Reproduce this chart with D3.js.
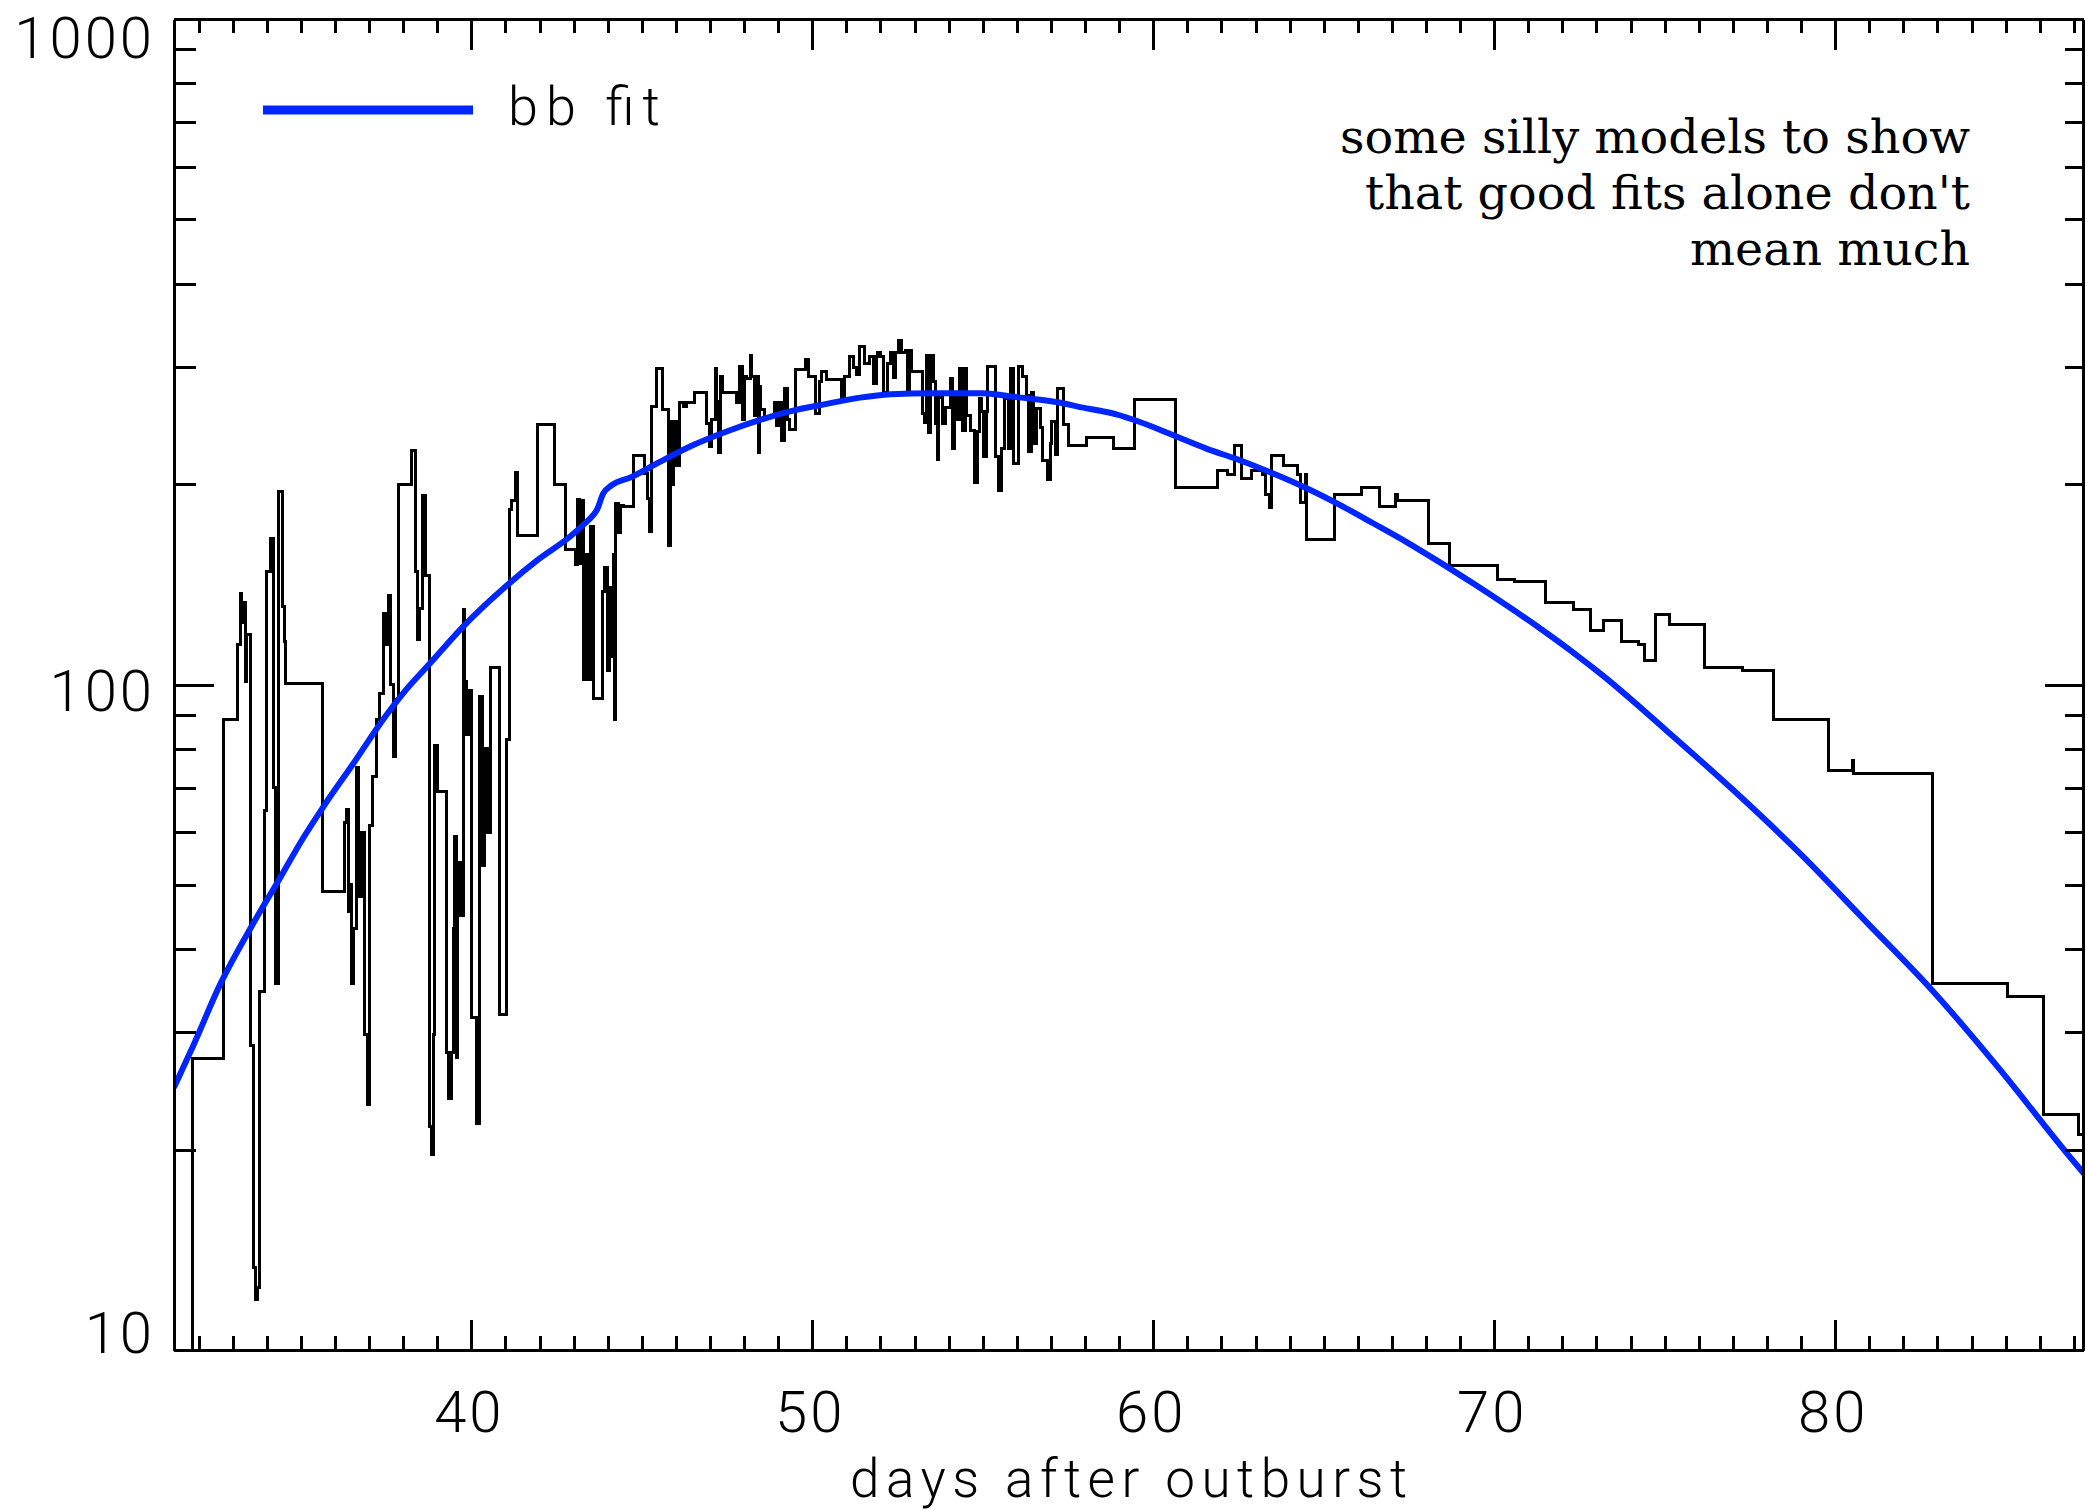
<!DOCTYPE html>
<html>
<head>
<meta charset="utf-8">
<script src="https://cdn.jsdelivr.net/npm/d3@7/dist/d3.min.js"></script>
<style>
  html, body { margin: 0; padding: 0; background: #fff; }
  svg { display: block; }
  .lbl { font-family: Roboto, "DejaVu Sans", sans-serif; font-weight: 300; fill: #000; }
  .note { font-family: "DejaVu Serif", serif; fill: #000; }
  .axis path, .axis line { stroke: #000; stroke-width: 3; shape-rendering: crispEdges; }
</style>
</head>
<body>
<div id="chart"></div>
<script>
// light curve, stepped histogram: bin start (days after outburst) and counts
const binStart = [
  31.20, 31.83, 32.73, 33.14, 33.22, 33.27, 33.32, 33.37, 33.42, 33.52,
  33.62, 33.68, 33.72, 33.80, 33.93, 34.00, 34.10, 34.20, 34.27, 34.34,
  34.46, 34.52, 34.56, 35.65, 36.28, 36.34, 36.40, 36.44, 36.50, 36.54,
  36.62, 36.70, 36.78, 36.86, 36.95, 37.00, 37.10, 37.22, 37.32, 37.42,
  37.50, 37.57, 37.64, 37.71, 37.78, 37.86, 38.25, 38.37, 38.42, 38.48,
  38.57, 38.66, 38.77, 38.83, 38.89, 38.93, 39.00, 39.28, 39.33, 39.42,
  39.47, 39.50, 39.56, 39.60, 39.67, 39.76, 39.80, 39.86, 39.93, 40.01,
  40.16, 40.25, 40.33, 40.40, 40.47, 40.55, 40.82, 41.04, 41.11, 41.18,
  41.30, 41.35, 41.94, 42.43, 42.76, 43.05, 43.10, 43.17, 43.22, 43.28,
  43.36, 43.42, 43.50, 43.58, 43.85, 43.92, 44.00, 44.06, 44.10, 44.16,
  44.20, 44.24, 44.32, 44.38, 44.46, 44.77, 45.09, 45.16, 45.24, 45.28,
  45.43, 45.61, 45.78, 45.85, 45.90, 45.94, 46.03, 46.10, 46.22, 46.31,
  46.56, 46.90, 46.98, 47.05, 47.15, 47.20, 47.25, 47.30, 47.38, 47.78,
  47.88, 47.95, 48.00, 48.07, 48.18, 48.21, 48.30, 48.36, 48.43, 48.45,
  48.47, 48.60, 48.88, 48.95, 49.02, 49.10, 49.20, 49.28, 49.33, 49.50,
  49.81, 49.90, 50.10, 50.20, 50.27, 50.42, 50.85, 50.95, 51.10, 51.20,
  51.30, 51.40, 51.52, 51.69, 51.80, 51.87, 51.92, 52.00, 52.08, 52.20,
  52.30, 52.38, 52.45, 52.52, 52.62, 52.72, 52.80, 52.86, 52.91, 53.23,
  53.30, 53.35, 53.42, 53.46, 53.55, 53.60, 53.66, 53.70, 53.74, 53.83,
  53.92, 54.04, 54.12, 54.18, 54.23, 54.33, 54.42, 54.48, 54.53, 54.65,
  54.77, 54.86, 54.90, 54.96, 55.03, 55.12, 55.15, 55.36, 55.45, 55.55,
  55.65, 55.75, 55.80, 55.90, 56.06, 56.17, 56.27, 56.35, 56.42, 56.50,
  56.58, 56.68, 56.75, 56.90, 57.00, 57.03, 57.12, 57.18, 57.36, 57.51,
  58.04, 58.83, 59.46, 60.66, 61.88, 62.17, 62.39, 62.59, 62.88, 63.21,
  63.30, 63.42, 63.47, 63.81, 64.22, 64.32, 64.47, 64.50, 65.33, 66.11,
  66.65, 67.10, 67.15, 68.06, 68.68, 70.09, 70.60, 71.51, 72.32, 72.82,
  73.22, 73.73, 74.22, 74.42, 74.74, 75.15, 76.18, 77.28, 78.18, 79.80,
  80.50, 80.55, 82.85, 85.07, 86.10, 87.13
];
const binValue = [
  10, 27.4, 88.6, 115, 137, 124, 133, 101, 119, 28.7,
  13.3, 11.9, 12.4, 34.6, 64.7, 148, 166, 70, 35.5, 195,
  131, 116, 100.5, 48.8, 62, 65, 45.6, 50, 35.6, 43,
  75, 48, 60, 29.8, 23.4, 61.5, 72.8, 88.7, 97, 128,
  115, 136, 100, 78, 95, 200, 225, 148, 117, 130,
  192, 146, 21.7, 19.7, 29.8, 81, 69, 28, 23.9, 28,
  43, 59, 27.5, 54, 45, 129.5, 101, 84, 98, 31.6,
  21.9, 96, 53.4, 80, 60, 106, 31.9, 82.8, 183, 189,
  208, 167.5, 245.6, 199.6, 159.4, 151.6, 189.7, 152, 189, 101.6,
  157, 101.6, 172.6, 95.3, 138, 150, 105, 140, 110, 157,
  88.5, 187, 169, 186, 185, 221, 207.6, 190.5, 170, 262,
  298, 259, 162, 248, 200, 248, 213, 265, 262, 265,
  275, 247, 228, 250, 298, 266, 223, 290, 275, 265,
  301, 250, 290, 288, 312, 290, 254, 290, 223, 280,
  259, 252.5, 265, 245, 265, 233, 278, 250, 241.6, 297,
  307.8, 290, 255, 285, 295, 287, 270, 290, 311, 299,
  292, 322, 304, 311, 283, 311, 315, 311, 275, 304,
  315, 289, 315, 329, 315, 318, 275, 318, 295, 255,
  247.5, 312, 239, 312, 285, 247, 218, 270, 272, 247,
  261, 288, 226, 270, 250, 298, 241, 298, 254, 241,
  201, 240, 269, 257, 220, 257, 301, 220, 196, 226,
  269, 226, 298, 215, 301, 290, 272, 224, 275, 230,
  260, 243, 217, 203, 230, 248, 222, 278, 245.6, 229,
  235, 226.5, 268, 198, 209.4, 206.5, 229, 204, 209.4, 206.5,
  193, 184.5, 221, 213.6, 207, 188, 207, 165.3, 193, 198,
  185.3, 193, 189, 163, 150.7, 143.9, 142.6, 133, 129.7, 120.5,
  124.6, 116, 114.9, 108.6, 127.2, 123, 106.2, 105, 88.7, 74.3,
  76.8, 73.5, 35.6, 34.0, 22.6, 21.1
];
const binLastEnd = 87.4;

// "bb fit" model curve
const fitDay = [
  31.28, 31.85, 32.63, 33.61, 34.39, 35.07, 35.66, 36.54, 37.42, 38.00,
  38.79, 39.76, 40.94, 41.92, 42.89, 43.30, 43.58, 43.68, 43.87, 44.10,
  44.70, 45.53, 46.51, 47.49, 48.47, 49.44, 50.42, 51.40, 52.30, 53.50,
  55.00, 55.80, 56.50, 57.20, 57.95, 58.48, 58.92, 59.61, 60.59, 61.56,
  62.54, 63.52, 64.50, 65.47, 66.45, 67.43, 68.41, 69.38, 70.36, 71.34,
  72.32, 73.19, 75.05, 77.01, 78.96, 80.92, 82.87, 84.83, 86.78, 87.30
];
const fitValue = [
  24.8, 28.7, 35.4, 43.8, 51.2, 58.8, 65.5, 76.1, 88.7, 97,
  107.6, 122.2, 139.4, 153.5, 166.7, 174, 179.8, 182.8, 193.7, 199,
  205, 216, 229, 240, 249.8, 257.9, 264, 269.8, 273, 274,
  274, 271, 268.5, 265.5, 260.6, 257.6, 254.7, 248, 236.9, 226.2,
  217.3, 207.5, 197.2, 186.2, 174.7, 163.7, 152.6, 141.9, 131.5, 121.5,
  111.7, 103.1, 85.3, 69.4, 55.8, 43.95, 34.6, 26.4, 19.8, 18.4
];

const xMajor = [40, 50, 60, 70, 80];
const yMajor = [10, 100, 1000];
const xTitle = "days after outburst";
const legendLabel = "bb fit";
const noteLines = ["some silly models to show", "that good fits alone don't", "mean much"];

const W = 2085, H = 1512;
const plot = { left: 174, right: 2083, top: 19, bottom: 1350 };
const BLUE = "rgb(0,38,255)";

const svg = d3.select("#chart").append("svg")
  .attr("width", W).attr("height", H);

svg.append("rect").attr("width", W).attr("height", H).attr("fill", "#fff");

const x = d3.scaleLinear().domain([31.28, 87.27]).range([plot.left, plot.right]);
const y = d3.scaleLog().domain([10, 1000]).range([plot.bottom, plot.top]);

svg.append("clipPath").attr("id", "clip")
  .append("rect")
  .attr("x", plot.left).attr("y", plot.top)
  .attr("width", plot.right - plot.left)
  .attr("height", plot.bottom - plot.top);

const body = svg.append("g").attr("clip-path", "url(#clip)");

// histogram (step)
const steps = binStart.map((d, i) => [d, binValue[i]]);
steps.push([binLastEnd, binValue[binValue.length - 1]]);

body.append("path")
  .datum(steps)
  .attr("fill", "none")
  .attr("stroke", "#000")
  .attr("stroke-width", 3)
  .style("shape-rendering", "crispEdges")
  .attr("d", d3.line()
    .x(d => x(d[0]))
    .y(d => y(Math.max(d[1], 9.9)))
    .curve(d3.curveStepAfter));

// fit curve
const fit = fitDay.map((d, i) => [d, fitValue[i]]);
body.append("path")
  .datum(fit)
  .attr("fill", "none")
  .attr("stroke", BLUE)
  .attr("stroke-width", 6)
  .attr("d", d3.line()
    .x(d => x(d[0]))
    .y(d => y(d[1]))
    .curve(d3.curveMonotoneX));

// AXES - ticks point inward, minor + major
const xMinor = d3.range(32, 88).filter(d => d % 10 !== 0);
const yMinor = [];
[10, 100].forEach(dec => { for (let k = 2; k <= 9; k++) yMinor.push(dec * k); });

function tickLayer(gen, at, values, size) {
  svg.append("g")
    .attr("class", "axis")
    .attr("transform", at)
    .call(gen.tickValues(values).tickSize(size).tickSizeOuter(0).tickFormat(""));
}

tickLayer(d3.axisBottom(x), `translate(0,${plot.bottom})`, xMinor, -14);
tickLayer(d3.axisBottom(x), `translate(0,${plot.bottom})`, xMajor, -30);
tickLayer(d3.axisTop(x), `translate(0,${plot.top})`, xMinor, -14);
tickLayer(d3.axisTop(x), `translate(0,${plot.top})`, xMajor, -31);
tickLayer(d3.axisLeft(y), `translate(${plot.left},0)`, yMinor, -22);
tickLayer(d3.axisLeft(y), `translate(${plot.left},0)`, yMajor, -40);
tickLayer(d3.axisRight(y), `translate(${plot.right},0)`, yMinor, -18);
tickLayer(d3.axisRight(y), `translate(${plot.right},0)`, yMajor, -38);

// tick labels
svg.append("g").selectAll("text")
  .data(xMajor).join("text")
  .attr("class", "lbl")
  .attr("x", d => x(d) - 2)
  .attr("y", 1432)
  .attr("text-anchor", "middle")
  .style("font-size", "58px")
  .style("letter-spacing", "3px")
  .text(d => d);

svg.append("g").selectAll("text")
  .data(yMajor).join("text")
  .attr("class", "lbl")
  .attr("x", 155)
  .attr("y", d => Math.min(Math.max(y(d) + 26, plot.top + 39), plot.bottom + 3))
  .attr("text-anchor", "end")
  .style("font-size", "58px")
  .style("letter-spacing", "3px")
  .text(d => d);

// axis title
svg.append("text")
  .attr("class", "lbl")
  .attr("x", (plot.left + plot.right) / 2)
  .attr("y", 1497)
  .attr("text-anchor", "middle")
  .attr("textLength", 557)
  .attr("lengthAdjust", "spacing")
  .style("font-size", "53px")
  .text(xTitle);

// legend
svg.append("line")
  .attr("x1", 263).attr("x2", 473)
  .attr("y1", 110).attr("y2", 110)
  .attr("stroke", BLUE)
  .attr("stroke-width", 9);

svg.append("text")
  .attr("class", "lbl")
  .attr("x", 508).attr("y", 125)
  .attr("textLength", 152)
  .attr("lengthAdjust", "spacing")
  .style("font-size", "54px")
  .text(legendLabel);

// note, right aligned
const noteWidths = [630, 605, 280];
svg.append("g").selectAll("text")
  .data(noteLines).join("text")
  .attr("class", "note")
  .attr("x", 1970)
  .attr("y", (d, i) => 153 + i * 56)
  .attr("text-anchor", "end")
  .attr("textLength", (d, i) => noteWidths[i])
  .attr("lengthAdjust", "spacingAndGlyphs")
  .style("font-size", "46px")
  .text(d => d);
</script>
</body>
</html>
